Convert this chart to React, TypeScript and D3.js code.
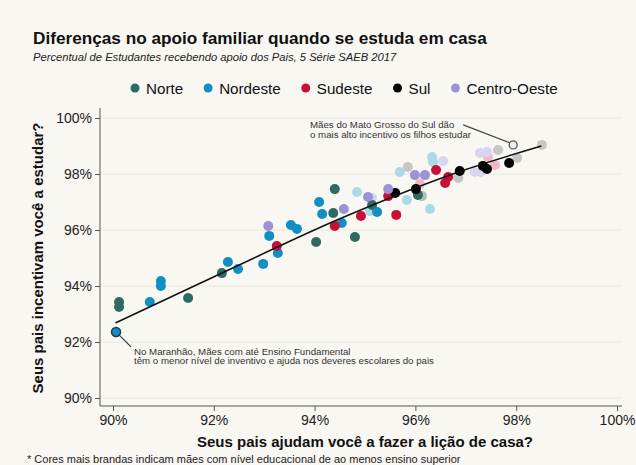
import React, { useEffect, useRef } from 'react';
import * as d3 from 'd3';

// Each point: [help with homework %, encouragement to study %]
const norte: [number, number][] = [
  [90.12, 93.43], [90.12, 93.25], [91.49, 93.57], [92.16, 94.46], [94.40, 97.46],
  [94.37, 96.61], [94.03, 95.57], [94.80, 95.75], [95.14, 96.89], [96.05, 97.25],
];
const nordeste: [number, number][] = [
  [90.73, 93.43], [90.95, 94.18], [90.95, 94.0], [92.28, 94.86], [92.48, 94.61],
  [92.98, 94.79], [93.27, 95.18], [93.10, 95.79], [93.53, 96.18], [93.65, 96.04],
  [94.09, 97.0], [94.15, 96.57], [94.54, 96.25], [95.24, 96.64],
];
const sudeste: [number, number][] = [
  [93.25, 95.43], [94.40, 96.14], [94.92, 96.5], [95.62, 96.54], [95.46, 97.21],
  [96.41, 98.14], [96.59, 97.68], [96.65, 97.89],
];
const sul: [number, number][] = [
  [95.60, 97.32], [96.01, 97.46], [96.88, 98.11], [97.34, 98.29], [97.42, 98.18], [97.86, 98.39],
];
const centroOeste: [number, number][] = [
  [93.08, 96.14], [94.58, 96.75], [95.06, 97.18], [95.46, 97.46], [95.99, 97.96], [96.19, 97.96],
];

// mothers with at least higher education (lighter colours)
const norteSup: [number, number][] = [[96.13, 97.21]];
const nordesteSup: [number, number][] = [
  [94.84, 97.36], [95.69, 98.07], [95.83, 97.07], [96.29, 96.75], [96.33, 98.61], [96.35, 98.43], [95.10, 96.68],
];
const sudesteSup: [number, number][] = [[97.44, 98.61], [97.58, 98.32], [96.09, 97.64]];
const sulSup: [number, number][] = [
  [98.51, 99.04], [97.64, 98.86], [98.02, 98.57], [96.85, 97.86], [95.85, 98.25],
];
const centroOesteSup: [number, number][] = [
  [96.55, 98.46], [97.28, 98.75], [97.42, 98.79], [97.18, 98.07], [97.30, 98.07], [95.14, 97.14],
];

const maranhao: [number, number] = [90.06, 92.36];
const matoGrossoSul: [number, number] = [97.94, 99.04];

const trend: [number, number][] = [
  [90.05, 92.68], [92.3, 94.58], [94.5, 96.4], [96.9, 98.1], [98.5, 99.0],
];

const regions = ['Norte', 'Nordeste', 'Sudeste', 'Sul', 'Centro-Oeste'];
const xTicks = [90, 92, 94, 96, 98, 100];
const yTicks = [90, 92, 94, 96, 98, 100];

const darkColors = ['#2e6a5f', '#128ec4', '#c70f3a', '#000000', '#9c92d6'];
const lightColors = ['#a9c3bb', '#abd9e8', '#f1b7c6', '#c6c6c4', '#d8d5f0'];

const App: React.FC = () => {
  const svgRef = useRef<SVGSVGElement>(null);

  useEffect(() => {
    if (!svgRef.current) return;
    document.body.style.margin = '0';
    const W = 636, H = 465;
    const font = '"Liberation Sans", Arial, sans-serif';

    const svg = d3.select(svgRef.current);
    svg.selectAll('*').remove();
    svg.attr('width', W).attr('height', H).style('font-family', font);

    svg.append('rect').attr('width', W).attr('height', H).attr('fill', '#f9f7f2');

    const x = d3.scaleLinear().domain([90, 100]).range([113, 617]);
    const y = d3.scaleLinear().domain([90, 100]).range([398, 118]);
    const axisX = 100, axisY = 406, right = 622, top = 108;

    // gridlines
    svg.append('g').selectAll('line').data(yTicks).enter().append('line')
      .attr('x1', axisX).attr('x2', right)
      .attr('y1', d => y(d)).attr('y2', d => y(d))
      .attr('stroke', '#ebe8e1').attr('stroke-width', 1);

    // axes
    const yAxis = svg.append('g').attr('transform', `translate(${axisX},0)`)
      .call(d3.axisLeft(y).tickValues(yTicks).tickSize(5).tickPadding(3).tickFormat(d => `${d}%`));
    yAxis.select('.domain').remove();
    const xAxis = svg.append('g').attr('transform', `translate(0,${axisY})`)
      .call(d3.axisBottom(x).tickValues(xTicks).tickSize(5).tickPadding(4).tickFormat(d => `${d}%`));
    xAxis.select('.domain').remove();
    svg.selectAll('.tick line').attr('stroke', '#555');
    svg.selectAll('.tick text').attr('font-size', 14).attr('fill', '#222').attr('font-family', font);

    svg.append('line').attr('x1', axisX).attr('x2', axisX).attr('y1', top).attr('y2', axisY)
      .attr('stroke', '#555');
    svg.append('line').attr('x1', axisX).attr('x2', right).attr('y1', axisY).attr('y2', axisY)
      .attr('stroke', '#555');

    // points
    const dot = (g: any, data: [number, number][], color: string) => {
      g.append('g').selectAll('circle').data(data).enter().append('circle')
        .attr('cx', (d: [number, number]) => x(d[0]))
        .attr('cy', (d: [number, number]) => y(d[1]))
        .attr('r', 5).attr('fill', color);
    };
    const light = [norteSup, nordesteSup, sudesteSup, sulSup, centroOesteSup];
    const dark = [norte, nordeste, sudeste, sul, centroOeste];
    light.forEach((s, i) => dot(svg, s, lightColors[i]));
    dark.forEach((s, i) => dot(svg, s, darkColors[i]));

    // trend line
    const line = d3.line<[number, number]>()
      .x(d => x(d[0])).y(d => y(d[1])).curve(d3.curveMonotoneX);
    svg.append('path').datum(trend).attr('d', line)
      .attr('fill', 'none').attr('stroke', '#111').attr('stroke-width', 1.5);

    // highlighted states
    svg.append('line')
      .attr('x1', x(maranhao[0])).attr('y1', y(maranhao[1]))
      .attr('x2', x(maranhao[0]) + 15).attr('y2', y(maranhao[1]) + 15)
      .attr('stroke', '#333').attr('stroke-width', 1.2);
    svg.append('circle').attr('cx', x(maranhao[0])).attr('cy', y(maranhao[1])).attr('r', 4.5)
      .attr('fill', darkColors[1]).attr('stroke', '#163a55').attr('stroke-width', 1.5);

    svg.append('line')
      .attr('x1', x(matoGrossoSul[0]) - 3).attr('y1', y(matoGrossoSul[1]) - 2)
      .attr('x2', x(matoGrossoSul[0]) - 50).attr('y2', y(matoGrossoSul[1]) - 20)
      .attr('stroke', '#444').attr('stroke-width', 1.2);
    svg.append('circle').attr('cx', x(matoGrossoSul[0])).attr('cy', y(matoGrossoSul[1])).attr('r', 4)
      .attr('fill', '#eeedf6').attr('stroke', '#555').attr('stroke-width', 1.3);

    const note = (tx: number, ty: number, lines: string[]) => {
      const t = svg.append('text').attr('x', tx).attr('y', ty).attr('font-size', 9.7).attr('fill', '#333');
      lines.forEach((l, i) => t.append('tspan').attr('x', tx).attr('dy', i === 0 ? 0 : 9.5).text(l));
    };
    note(x(maranhao[0]) + 18, y(maranhao[1]) + 23,
      ['No Maranhão, Mães com até Ensino Fundamental', 'têm o menor nível de inventivo e ajuda nos deveres escolares do pais']);
    note(310, 128, ['Mães do Mato Grosso do Sul dão', 'o mais alto incentivo os filhos estudar']);

    // titles
    svg.append('text').attr('x', 33).attr('y', 44).attr('font-size', 17.2).attr('font-weight', 'bold')
      .attr('fill', '#111').text('Diferenças no apoio familiar quando se estuda em casa');
    svg.append('text').attr('x', 33).attr('y', 61).attr('font-size', 11.2).attr('font-style', 'italic')
      .attr('fill', '#222').text('Percentual de Estudantes recebendo apoio dos Pais, 5 Série SAEB 2017');

    svg.append('text').attr('x', x(95)).attr('y', 447).attr('text-anchor', 'middle')
      .attr('font-size', 15).attr('font-weight', 'bold').attr('fill', '#111')
      .text('Seus pais ajudam você a fazer a lição de casa?');
    svg.append('text').attr('transform', `translate(43,${y(95)}) rotate(-90)`)
      .attr('text-anchor', 'middle').attr('font-size', 15).attr('font-weight', 'bold').attr('fill', '#111')
      .text('Seus pais incentivam você a estudar?');

    svg.append('text').attr('x', 27).attr('y', 463).attr('font-size', 11).attr('fill', '#222')
      .text('* Cores mais brandas indicam mães com nível educacional de ao menos ensino superior');

    // legend
    let lx = 135;
    const legend = svg.append('g');
    regions.forEach((r, i) => {
      legend.append('circle').attr('cx', lx).attr('cy', 88).attr('r', 4.5).attr('fill', darkColors[i]);
      const t = legend.append('text').attr('x', lx + 11).attr('y', 94).attr('font-size', 15.2)
        .attr('fill', '#111').text(r);
      const w = (t.node() as SVGTextElement).getComputedTextLength();
      lx += 11 + w + 25;
    });
  }, []);

  return (
    <div style={{ position: 'absolute', left: 0, top: 0 }}>
      <svg ref={svgRef} style={{ display: 'block' }}></svg>
    </div>
  );
};

export default App;
